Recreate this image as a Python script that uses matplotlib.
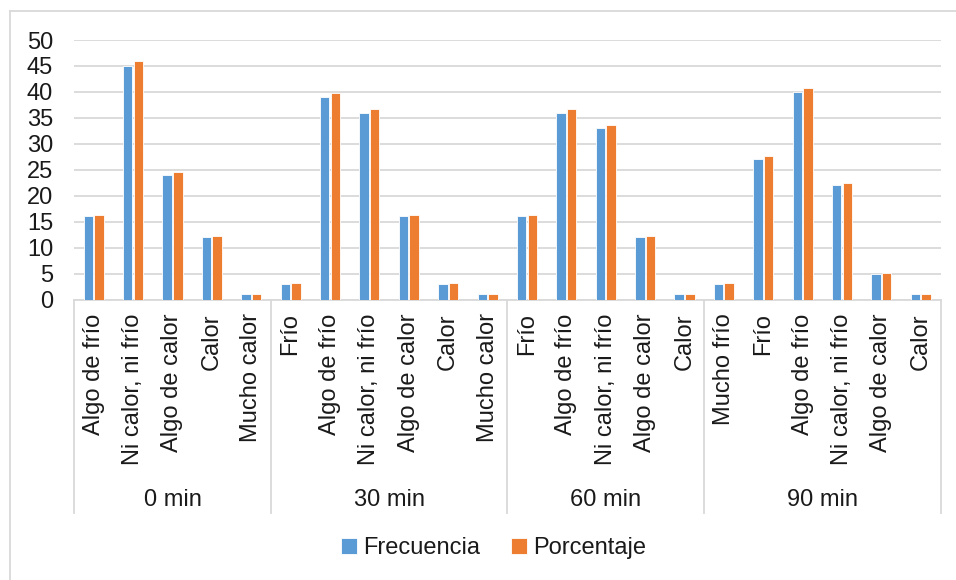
import numpy as np
import matplotlib
matplotlib.use("Agg")
import matplotlib.pyplot as plt
from matplotlib.lines import Line2D
from matplotlib.transforms import blended_transform_factory

plt.rcParams["font.family"] = ["Liberation Sans", "DejaVu Sans"]

GROUPS = ["0 min", "30 min", "60 min", "90 min"]
CATS_0 = ["Algo de frío", "Ni calor, ni frío", "Algo de calor", "Calor", "Mucho calor"]
CATS_30 = ["Frío", "Algo de frío", "Ni calor, ni frío", "Algo de calor", "Calor", "Mucho calor"]
CATS_60 = ["Frío", "Algo de frío", "Ni calor, ni frío", "Algo de calor", "Calor"]
CATS_90 = ["Mucho frío", "Frío", "Algo de frío", "Ni calor, ni frío", "Algo de calor", "Calor"]

FREQ_0 = [16, 45, 24, 12, 1]
FREQ_30 = [3, 39, 36, 16, 3, 1]
FREQ_60 = [16, 36, 33, 12, 1]
FREQ_90 = [3, 27, 40, 22, 5, 1]

PCT_0 = [16.3, 45.9, 24.5, 12.2, 1.0]
PCT_30 = [3.1, 39.8, 36.7, 16.3, 3.1, 1.0]
PCT_60 = [16.3, 36.7, 33.7, 12.2, 1.0]
PCT_90 = [3.1, 27.6, 40.8, 22.4, 5.1, 1.0]

BLUE = "#5B9BD5"
ORANGE = "#ED7D31"
GRID = "#d9d9d9"
TXT = "#1a1a1a"
FS = 17

cats = CATS_0 + CATS_30 + CATS_60 + CATS_90
freq = FREQ_0 + FREQ_30 + FREQ_60 + FREQ_90
pct = PCT_0 + PCT_30 + PCT_60 + PCT_90
sizes = [len(CATS_0), len(CATS_30), len(CATS_60), len(CATS_90)]
x = np.arange(len(cats))

fig = plt.figure(figsize=(9.56, 5.8), dpi=100)
ax = fig.add_axes([0.0774, 0.4836, 0.9064, 0.4474])

w = 0.24
ax.bar(x - 0.135, freq, w, color=BLUE, edgecolor="white", linewidth=0.6,
       label="Frecuencia", zorder=3)
ax.bar(x + 0.135, pct, w, color=ORANGE, edgecolor="white", linewidth=0.6,
       label="Porcentaje", zorder=3)

ax.set_xlim(-0.5, len(cats) - 0.5)
ax.set_ylim(0, 50)
ax.set_yticks(range(0, 51, 5))
ax.yaxis.grid(True, color=GRID, linewidth=1.3, zorder=0)
ax.set_axisbelow(True)
for s in ["top", "right", "left"]:
    ax.spines[s].set_visible(False)
ax.spines["bottom"].set_color(GRID)
ax.spines["bottom"].set_linewidth(1.3)
ax.tick_params(axis="y", length=0, pad=15, labelsize=FS, labelcolor=TXT)
ax.set_xticks(x)
ax.set_xticklabels(cats, rotation=90, fontsize=FS, color=TXT)
ax.tick_params(axis="x", length=0, pad=10)

# group separators and group names under the category labels
trans = blended_transform_factory(ax.transData, ax.transAxes)
edges = np.concatenate([[0], np.cumsum(sizes)]) - 0.5
for e in edges:
    ax.plot([e, e], [0, -0.823], transform=trans, color=GRID, lw=1.3,
            clip_on=False)
for name, a, b in zip(GROUPS, edges[:-1], edges[1:]):
    ax.text((a + b) / 2, -0.773, name, transform=trans, ha="center",
            va="center", fontsize=FS, color=TXT)

fig.legend(loc="center", bbox_to_anchor=(0.516, 0.055), ncol=2, frameon=False,
           fontsize=FS, handlelength=0.7, handleheight=0.7,
           handletextpad=0.25, columnspacing=1.3, labelcolor=TXT)

# light outer frame of the chart area
fig.add_artist(Line2D([10 / 956, 10 / 956], [0, 1 - 11 / 580],
                      transform=fig.transFigure, color=GRID, lw=1.3))
fig.add_artist(Line2D([10 / 956, 1], [1 - 11 / 580, 1 - 11 / 580],
                      transform=fig.transFigure, color=GRID, lw=1.3))

fig.savefig("out.png", dpi=100, facecolor="white")
